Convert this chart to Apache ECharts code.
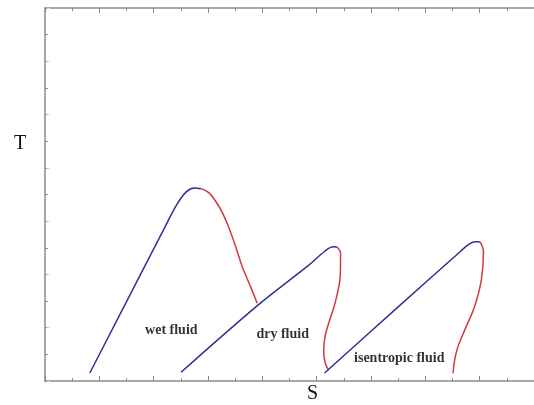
<!DOCTYPE html>
<html>
<head>
<meta charset="utf-8">
<script src="https://cdn.jsdelivr.net/npm/echarts@6/dist/echarts.min.js"></script>
<style>
  html, body { margin: 0; padding: 0; background: #fff; }
  #chart { width: 534px; height: 405px; }
</style>
</head>
<body>
<div id="chart"></div>
<script>
  // curves in (S, T) units
  let wetLiquid = [[1.65, 0.30], [4.40, 5.75], [4.85, 6.62], [5.20, 7.10], [5.50, 7.24], [5.75, 7.22]];
  let wetVapour = [[5.75, 7.22], [6.04, 7.06], [6.41, 6.54], [6.70, 5.93], [7.02, 5.04], [7.26, 4.29], [7.51, 3.68], [7.81, 2.92]];
  let dryLiquid = [[5.01, 0.33], [7.84, 2.85], [9.71, 4.35], [10.30, 4.87], [10.60, 5.04], [10.75, 5.03]];
  let dryVapour = [[10.75, 5.03], [10.88, 4.80], [10.87, 3.98], [10.69, 2.98], [10.32, 1.73], [10.26, 1.10], [10.32, 0.66], [10.44, 0.41]];
  let isenLiquid = [[10.29, 0.30], [13.00, 2.78], [15.30, 4.87], [15.62, 5.15], [15.85, 5.23], [16.02, 5.22]];
  let isenVapour = [[16.02, 5.22], [16.14, 4.85], [16.06, 3.79], [15.81, 2.79], [15.45, 1.91], [15.20, 1.29], [15.08, 0.79], [15.02, 0.29]];

  let fluidNames = ['wet fluid', 'dry fluid', 'isentropic fluid'];
  let labelPos = [[4.65, 1.91], [8.75, 1.76], [13.04, 0.86]];

  let blue = '#2e3192';
  let red = '#d0393e';
  let axisGray = '#8a8a8a';

  let myChart = echarts.init(document.getElementById('chart'));

  function curve(data, color) {
    return {
      type: 'line',
      data: data,
      smooth: 0.35,
      showSymbol: false,
      silent: true,
      lineStyle: { color: color, width: 1.5 },
      z: 3
    };
  }

  let labelData = fluidNames.map((name, i) => ({ name: name, value: labelPos[i] }));

  let xBase = {
    type: 'value',
    min: 0,
    max: 18,
    interval: 2,
    axisLine: { show: true, onZero: false, lineStyle: { color: axisGray, width: 1.5 } },
    axisTick: { show: true, inside: true, length: 5, lineStyle: { color: axisGray } },
    minorTick: { show: true, splitNumber: 2, length: 3, lineStyle: { color: axisGray } },
    axisLabel: { show: false },
    splitLine: { show: false }
  };

  let option = {
    animation: false,
    grid: { left: 45, top: 8, width: 491.4, height: 373 },
    xAxis: [
      Object.assign({}, xBase, { position: 'bottom' }),
      Object.assign({}, xBase, { position: 'top' })
    ],
    yAxis: [
      {
        type: 'value',
        position: 'left',
        min: 0,
        max: 14,
        interval: 1,
        axisLine: { show: true, onZero: false, lineStyle: { color: axisGray, width: 1.5 } },
        axisTick: { show: true, inside: true, length: 3, lineStyle: { color: axisGray } },
        axisLabel: { show: false },
        splitLine: { show: false }
      },
      {
        type: 'value',
        position: 'right',
        offset: -5,
        min: 0,
        max: 14,
        interval: 2,
        axisLine: { show: false },
        axisTick: { show: true, inside: true, length: 3, lineStyle: { color: '#dcdcdc' } },
        axisLabel: { show: false },
        splitLine: { show: false }
      }
    ],
    graphic: [
      {
        type: 'text', left: 14, top: 134,
        style: { text: 'T', fontFamily: 'Liberation Serif', fontSize: 20, fill: '#111' }
      },
      {
        type: 'text', left: 307, top: 384,
        style: { text: 'S', fontFamily: 'Liberation Serif', fontSize: 20, fill: '#111' }
      }
    ],
    series: [
      curve(wetLiquid, blue),
      curve(wetVapour, red),
      curve(dryLiquid, blue),
      curve(dryVapour, red),
      curve(isenLiquid, blue),
      curve(isenVapour, red),
      {
        type: 'scatter',
        data: labelData,
        symbolSize: 0,
        silent: true,
        label: {
          show: true,
          position: 'inside',
          formatter: '{b}',
          fontFamily: 'Liberation Serif',
          fontWeight: 'bold',
          fontSize: 14,
          color: '#000',
          textBorderWidth: 0
        }
      }
    ]
  };
  myChart.setOption(option);
</script>
</body>
</html>
